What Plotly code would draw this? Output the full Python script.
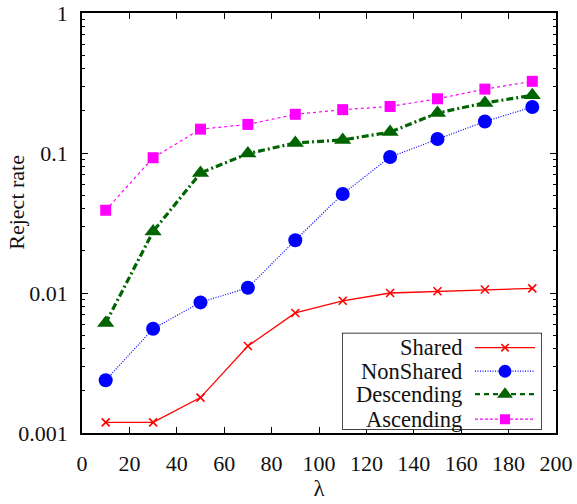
import plotly.graph_objects as go

# lambda values (x) and reject rates per strategy
lam = [10, 30, 50, 70, 90, 110, 130, 150, 170, 190]
shared = [0.00119, 0.00119, 0.00179, 0.00418, 0.0072, 0.0088, 0.0100, 0.0103, 0.0106, 0.0108]
nonshared = [0.00238, 0.00556, 0.00857, 0.0109, 0.0238, 0.051, 0.0936, 0.126, 0.168, 0.213]
descending = [0.0061, 0.0275, 0.072, 0.099, 0.118, 0.124, 0.141, 0.193, 0.228, 0.258]
ascending = [0.039, 0.0925, 0.148, 0.160, 0.189, 0.204, 0.215, 0.244, 0.286, 0.325]

x_ticks = [0, 20, 40, 60, 80, 100, 120, 140, 160, 180, 200]
y_ticks = [0.001, 0.01, 0.1, 1]
y_tick_labels = ["0.001", "0.01", "0.1", "1"]

FONT = "Liberation Serif"
TXT = "#111111"

series = [
    dict(name="Shared", y=shared, color="#ff0000", dash="solid", width=1.3,
         symbol="x-thin", size=8, mline=dict(width=1.6, color="#ff0000"), kdash="solid"),
    dict(name="NonShared", y=nonshared, color="#0000ff", dash="1px,1.5px", width=1.2,
         symbol="circle", size=14, mline=dict(width=0), kdash="1px,1.5px"),
    dict(name="Descending", y=descending, color="#006400", dash="7px,3px,2px,3px", width=3.2,
         symbol="triangle-up", size=15, mline=dict(width=0), kdash="5px,4px"),
    dict(name="Ascending", y=ascending, color="#ff00ff", dash="3px,3px", width=1.2,
         symbol="square", size=11, mline=dict(width=0), kdash="3px,2px"),
]

fig = go.Figure()
for s in series:
    fig.add_trace(go.Scatter(
        x=lam, y=s["y"], name=s["name"], mode="lines+markers",
        line=dict(color=s["color"], dash=s["dash"], width=s["width"]),
        marker=dict(symbol=s["symbol"], size=s["size"], color=s["color"], line=s["mline"]),
        showlegend=False,
    ))

# Key box drawn on an overlay axis measured in pixels: text on the left, sample on the right
key_w, key_h = 200, 97
row_y = [82, 58.5, 35.5, 10.5]
for s, ry in zip(series, row_y):
    fig.add_trace(go.Scatter(
        x=[133, 193], y=[ry, ry], mode="lines", xaxis="x2", yaxis="y2",
        line=dict(color=s["color"], dash=s["kdash"], width=min(s["width"], 2.2)),
        showlegend=False, hoverinfo="skip",
    ))
    fig.add_trace(go.Scatter(
        x=[163], y=[ry], mode="markers", xaxis="x2", yaxis="y2",
        marker=dict(symbol=s["symbol"], size=s["size"] * 0.92, color=s["color"], line=s["mline"]),
        showlegend=False, hoverinfo="skip",
    ))
    fig.add_annotation(
        x=122, y=ry, xref="x2", yref="y2", text=s["name"], showarrow=False,
        xanchor="right", yanchor="middle", font=dict(family=FONT, size=22.5, color=TXT),
    )

# y-axis title placed as a rotated annotation
fig.add_annotation(
    x=(17 - 82) / 474, y=(433.3 - 203) / 420, xref="paper", yref="paper",
    text="Reject rate", textangle=-90, showarrow=False,
    xanchor="center", yanchor="middle", font=dict(family=FONT, size=22, color=TXT),
)

axis_common = dict(
    showline=True, linecolor="black", linewidth=1.6, mirror="allticks",
    ticks="inside", tickcolor="black", ticklen=6, tickwidth=1.2,
    showgrid=False, zeroline=False, automargin=False,
    tickfont=dict(family=FONT, size=22, color=TXT),
)

fig.update_layout(
    width=577, height=504,
    margin=dict(l=82, r=21, t=13, b=71),
    plot_bgcolor="white", paper_bgcolor="white",
    xaxis=dict(
        range=[0, 200], tickvals=x_ticks, ticktext=[str(v) for v in x_ticks],
        ticklabelstandoff=10,
        title=dict(text="λ", font=dict(family=FONT, size=23, color=TXT), standoff=4),
        **axis_common,
    ),
    yaxis=dict(
        type="log", range=[-3, 0], tickvals=y_ticks, ticktext=y_tick_labels,
        ticklabelstandoff=8,
        minor=dict(ticks="inside", ticklen=3, tickcolor="black", tickwidth=1,
                   tickvals=[m * 10 ** e for e in (-3, -2, -1) for m in range(2, 10)]),
        **axis_common,
    ),
    xaxis2=dict(domain=[(342 - 82) / 474, (542 - 82) / 474], range=[0, key_w],
                visible=False, fixedrange=True, anchor="y2"),
    yaxis2=dict(domain=[(433.3 - 430) / 420, (433.3 - 333) / 420], range=[0, key_h],
                visible=False, fixedrange=True, anchor="x2"),
    shapes=[dict(type="rect", xref="x2", yref="y2", x0=0, x1=key_w, y0=0, y1=key_h,
                 line=dict(color="black", width=1.4), fillcolor="white", layer="below")],
)

fig.write_html("out.html")
